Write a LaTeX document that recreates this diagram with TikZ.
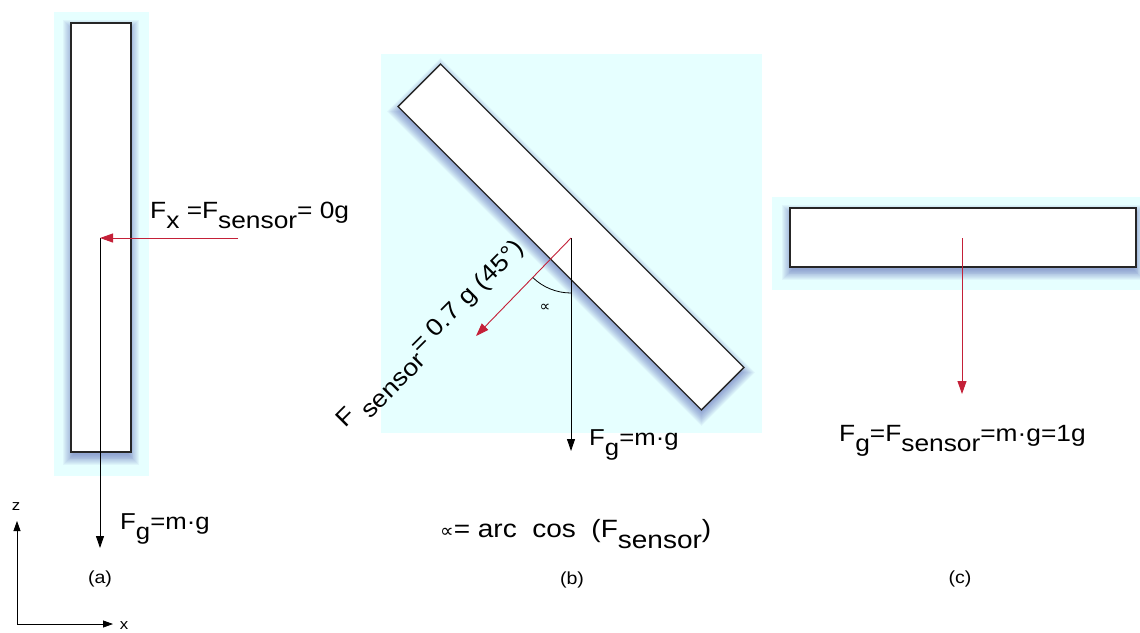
\documentclass[tikz,border=0pt]{standalone}
\usepackage{fontspec}
\setmainfont{Liberation Sans}[FakeStretch=1.12]
\newfontfamily\symfont{DejaVu Sans}
\usetikzlibrary{arrows.meta,calc}
\definecolor{bgcyan}{RGB}{230,255,255}
\definecolor{fred}{RGB}{196,32,56}
\definecolor{shadowblue}{RGB}{60,75,170}
\newcommand{\lowr}[1]{\raisebox{-0.45em}{#1}}
\newcommand{\fs}[1]{\fontsize{#1}{#1}\selectfont}
\newcommand{\softshadow}[4]{%
  \foreach \i in {1,...,12}{%
    \node[shadowlayer, rotate=#4, minimum width={#2-6+1.8*\i}, minimum height={#3-6+1.8*\i}] at ($#1+(0,5)$) {};}}
\begin{document}
\begin{tikzpicture}[x=1pt,y=-1pt,
  shadowlayer/.style={fill=shadowblue, opacity=0.05, draw=none, inner sep=0, outer sep=0},
  barbox/.style={draw=black!85, line width=1.3pt, fill=white, inner sep=0, outer sep=0},
  force/.style={line width=0.9pt, -{Triangle[length=12pt,width=8pt]}},
  redforce/.style={draw=fred, line width=0.9pt, -{Triangle[length=13pt,width=9pt]}},
  lbl/.style={inner sep=0, font=\fs{23.5}},
  caption/.style={inner sep=0, font=\fs{17.5}},
  axislbl/.style={inner sep=0, font=\fs{15}},
]
\useasboundingbox (0,0) rectangle (1140,632);
\fill[white] (0,0) rectangle (1140,632);

% backgrounds
\fill[bgcyan] (54,12) rectangle (149,476);
\fill[bgcyan] (381,54) rectangle (762,433);
\fill[bgcyan] (772,197) rectangle (1140,290);

% bars with soft shadows
\softshadow{(101,237.5)}{60}{429}{0}
\node[barbox, minimum width=60pt, minimum height=429pt] (bara) at (101,237.5) {};
\softshadow{(571,237)}{429}{60}{-45}
\node[barbox, rotate=-45, minimum width=429pt, minimum height=60pt] (barb) at (571,237) {};
\softshadow{(963,237.5)}{346}{59}{0}
\node[barbox, minimum width=346pt, minimum height=59pt] (barc) at (963,237.5) {};

% panel (a)
\coordinate (oa) at (100,238);
\coordinate (ga) at (100,548);
\coordinate (sa) at (238,238);
\draw[force] (oa) -- (ga);
\draw[redforce] (sa) -- (oa);
\node[lbl, anchor=base west] (fx) at (150,218) {F\lowr{x} =F\lowr{sensor}= 0g};
\node[lbl, font=\fs{23}, anchor=base west] (fga) at (120,529) {F\lowr{g}=m·g};
\node[caption] (capa) at (100,579) {(a)};

% panel (b)
\coordinate (ob) at (571,238);
\coordinate (gb) at (571,451);
\coordinate (sb) at (476,336);
\draw[force] (ob) -- (gb);
\draw[redforce] (ob) -- (sb);
\draw[line width=0.8pt] (ob) ++(134:55) arc[start angle=134, end angle=90, radius=55];
\node[inner sep=0, font=\symfont\fs{15}] (alb) at (545,308) {∝};
\node[lbl, font=\fs{24}, rotate=45] (fsb) at (433,337) {F \lowr{sensor}= 0.7 g (45°)};
\node[lbl, font=\fs{23}, anchor=base west] (fgb) at (589,445) {F\lowr{g}=m·g};
\node[lbl, font=\fs{25}, anchor=base west] (alpha) at (440,537) {{\symfont\fs{19}∝}= arc\ \ cos\ \ (F\lowr{sensor})};
\node[caption] (capb) at (572,580) {(b)};

% panel (c)
\coordinate (oc) at (962,238);
\coordinate (gc) at (962,394);
\draw[redforce] (oc) -- (gc);
\node[lbl, anchor=base west] (fgc) at (839,441) {F\lowr{g}=F\lowr{sensor}=m·g=1g};
\node[caption] (capc) at (960,579) {(c)};

% axes
\coordinate (o) at (17,624);
\coordinate (zt) at (17,521);
\coordinate (xt) at (113,624);
\draw[line width=0.8pt, -{Triangle[length=10pt,width=7pt]}] (o) -- (zt);
\draw[line width=0.8pt, -{Triangle[length=10pt,width=7pt]}] (o) -- (xt);
\node[axislbl] (zl) at (16,507) {z};
\node[axislbl] (xl) at (124,626) {x};
\end{tikzpicture}
\end{document}
